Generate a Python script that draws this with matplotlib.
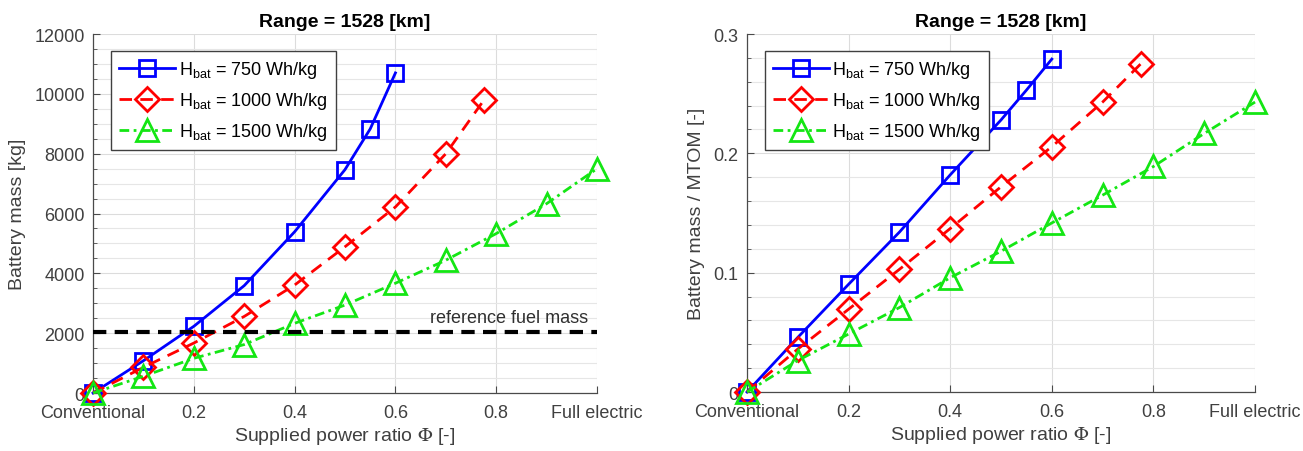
import matplotlib
matplotlib.use("Agg")
import matplotlib.pyplot as plt
import numpy as np

plt.rcParams['font.family'] = ['Liberation Sans', 'DejaVu Sans']
plt.rcParams['mathtext.fontset'] = 'custom'
plt.rcParams['mathtext.rm'] = 'Liberation Sans'
plt.rcParams['mathtext.it'] = 'Liberation Sans:italic'

# ---------------- data ----------------
title = "Range = 1528 [km]"
xlabel = r"Supplied power ratio $\Phi$ [-]"
ylabel_left = "Battery mass [kg]"
ylabel_right = "Battery mass / MTOM [-]"
legend_labels = [r"H$_{\rm bat}$ = 750 Wh/kg",
                 r"H$_{\rm bat}$ = 1000 Wh/kg",
                 r"H$_{\rm bat}$ = 1500 Wh/kg"]

x_tick_values = [0, 0.2, 0.4, 0.6, 0.8, 1.0]
x_tick_labels = ["Conventional", "0.2", "0.4", "0.6", "0.8", "Full electric"]

phi_750 = [0, 0.1, 0.2, 0.3, 0.4, 0.5, 0.55, 0.6]
phi_1000 = [0, 0.1, 0.2, 0.3, 0.4, 0.5, 0.6, 0.7, 0.775]
phi_1500 = [0, 0.1, 0.2, 0.3, 0.4, 0.5, 0.6, 0.7, 0.8, 0.9, 1.0]

mass_750 = [0, 1080, 2230, 3590, 5390, 7470, 8830, 10700]
mass_1000 = [0, 860, 1670, 2560, 3610, 4890, 6220, 8000, 9780]
mass_1500 = [0, 560, 1160, 1620, 2330, 2940, 3670, 4440, 5330, 6330, 7500]

ratio_750 = [0, 0.0458, 0.0903, 0.134, 0.182, 0.228, 0.253, 0.279]
ratio_1000 = [0, 0.036, 0.0694, 0.1028, 0.137, 0.172, 0.2056, 0.243, 0.275]
ratio_1500 = [0, 0.0264, 0.0486, 0.0708, 0.0958, 0.118, 0.1417, 0.165, 0.189, 0.2167, 0.243]

ref_fuel_mass = 2050
ref_label = "reference fuel mass"

# ---------------- styles ----------------
c_blue, c_red, c_green = '#0000ff', '#ff0000', '#14e614'
axis_col = '#4a4a4a'
lw = 2.0
styles = [
    dict(color=c_blue, ls='-', marker='s', ms=12),
    dict(color=c_red, ls=(0, (4.5, 3)), marker='D', ms=12),
    dict(color=c_green, ls=(0, (3.5, 1.6, 1, 1.6)), marker='^', ms=16),
]

fig = plt.figure(figsize=(13.03, 4.52), dpi=100)
axL = fig.add_axes([0.0714, 0.1283, 0.3868, 0.7942])
axR = fig.add_axes([0.5733, 0.1305, 0.3899, 0.7920])


def style_axes(ax):
    for s in ['top', 'right']:
        ax.spines[s].set_visible(False)
    for s in ['left', 'bottom']:
        ax.spines[s].set_color(axis_col)
        ax.spines[s].set_linewidth(0.9)
    ax.set_xlim(0, 1)
    ax.set_xticks(x_tick_values)
    ax.set_xticklabels(x_tick_labels)
    ax.tick_params(axis='both', which='both', direction='in', colors=axis_col,
                   labelsize=13, labelcolor='#404040')
    ax.tick_params(axis='both', which='major', length=5)
    ax.tick_params(axis='y', which='minor', length=3)
    ax.tick_params(axis='x', which='major', pad=8)
    ax.tick_params(axis='y', which='major', pad=6)
    ax.grid(True, which='major', color='#dcdcdc', lw=0.8)
    ax.grid(True, which='minor', axis='y', color='#e6e6e6', lw=0.8)
    ax.set_axisbelow(True)
    ax.set_title(title, fontsize=14, fontweight='bold', pad=6)
    ax.set_xlabel(xlabel, fontsize=14, color='#404040', math_fontfamily='stix', labelpad=3)


def draw(ax, xs, ys):
    handles = []
    for x, y, st, lab in zip(xs, ys, styles, legend_labels):
        h, = ax.plot(x, y, color=st['color'], ls=st['ls'], lw=lw, marker=st['marker'],
                     ms=st['ms'], mfc='none', mec=st['color'], mew=2.0, clip_on=False,
                     label=lab, zorder=3)
        handles.append(h)
    return handles


def add_legend(ax, x0):
    leg = ax.legend(loc='upper left', bbox_to_anchor=(x0, 0.953), borderaxespad=0,
                    fontsize=13, fancybox=False, edgecolor='#404040', framealpha=1,
                    handlelength=3.1, handletextpad=0.2, labelspacing=0.55,
                    borderpad=0.45)
    leg.get_frame().set_linewidth(1.0)
    return leg


# left
style_axes(axL)
draw(axL, [phi_750, phi_1000, phi_1500], [mass_750, mass_1000, mass_1500])
axL.axhline(ref_fuel_mass, color='black', lw=3, ls=(0, (3.2, 2)), zorder=4)
axL.text(0.982, ref_fuel_mass + 180, ref_label, ha='right', va='bottom', fontsize=13,
         color='#303030')
axL.set_ylim(0, 12000)
axL.set_yticks(np.arange(0, 12001, 2000))
axL.set_yticks(np.arange(0, 12001, 500), minor=True)
axL.set_ylabel(ylabel_left, fontsize=14, color='#404040', labelpad=6)
add_legend(axL, 0.036)

# right
style_axes(axR)
draw(axR, [phi_750, phi_1000, phi_1500], [ratio_750, ratio_1000, ratio_1500])
axR.set_ylim(0, 0.3)
axR.set_yticks([0, 0.1, 0.2, 0.3])
axR.set_yticklabels(['0', '0.1', '0.2', '0.3'])
axR.set_yticks(np.arange(0, 0.3001, 0.02), minor=True)
axR.set_ylabel(ylabel_right, fontsize=14, color='#404040', labelpad=6)
add_legend(axR, 0.035)

fig.savefig('out.png', dpi=100)
